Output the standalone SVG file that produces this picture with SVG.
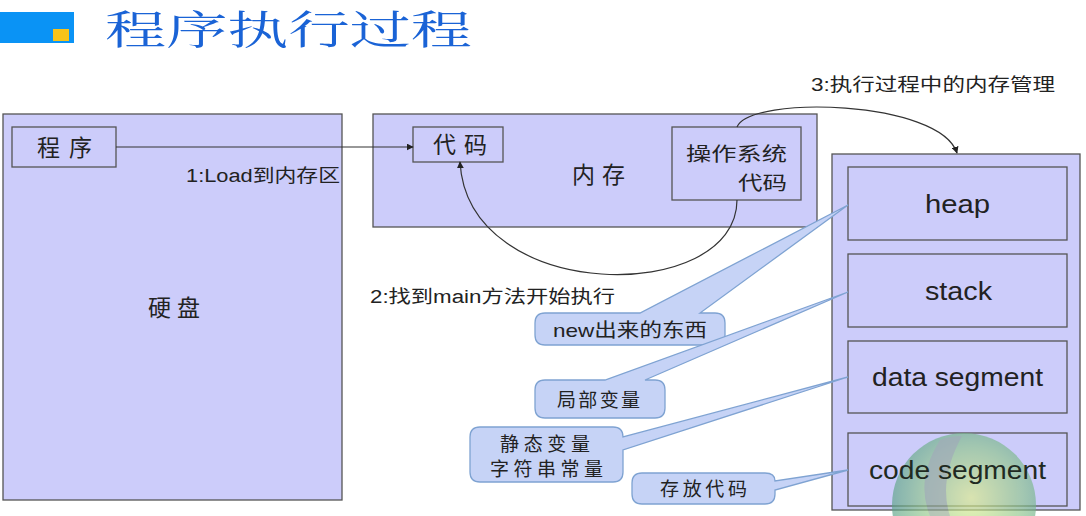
<svg xmlns="http://www.w3.org/2000/svg" width="1086" height="516" viewBox="0 0 1086 516">
<style>
.box{fill:#ccccfa;stroke:#555;stroke-width:1.3}
.cjk{font-family:"Noto Sans CJK SC","Liberation Sans",sans-serif;fill:#222}
.lab{font-family:"Liberation Sans","Noto Sans CJK SC",sans-serif;fill:#222}
.lat{font-family:"Liberation Sans","Noto Sans CJK SC",sans-serif;fill:#222}
.call{fill:#c6d3f6;stroke:#7fa3d2;stroke-width:1.3}
.conn{fill:none;stroke:#333;stroke-width:1.2}
</style>
<defs>
<marker id="ah" viewBox="0 0 10 10" refX="9" refY="5" markerWidth="7" markerHeight="7" orient="auto-start-reverse" markerUnits="userSpaceOnUse"><path d="M0,0 L10,5 L0,10 Z" fill="#222"/></marker>
<radialGradient id="sph" cx="0.55" cy="0.45" r="0.6">
<stop offset="0" stop-color="#e0f08a"/>
<stop offset="0.6" stop-color="#8cc48a"/>
<stop offset="1" stop-color="#4e9a86"/>
</radialGradient>
</defs>
<rect width="1086" height="516" fill="#fff"/>
<g id="title">
<rect x="0" y="12" width="74" height="31" fill="#0a93f5"/>
<rect x="53" y="29" width="16" height="12" fill="#f7c31a"/>
<text x="105" y="44" textLength="367" lengthAdjust="spacingAndGlyphs" style="fill:#1a63d6;font-size:40px;font-family:'Noto Serif CJK SC','Noto Sans CJK SC',serif">程序执行过程</text>
</g>
<g id="disk">
<rect x="3" y="114" width="339" height="386" class="box"/>
<text x="148" y="316" class="cjk" font-size="23" textLength="52">硬盘</text>
</g>
<g id="program">
<rect x="12" y="127" width="104" height="40" class="box"/>
<text x="37" y="156" class="cjk" font-size="23" textLength="55">程序</text>
</g>
<g id="memory">
<rect x="373" y="114" width="444" height="113" class="box"/>
<text x="572" y="183" class="cjk" font-size="23" textLength="53">内存</text>
</g>
<g id="code">
<rect x="413" y="127" width="90" height="35" class="box"/>
<text x="433" y="153" class="cjk" font-size="23" textLength="54">代码</text>
</g>
<g id="os">
<rect x="672" y="127" width="129" height="73" class="box"/>
<text x="686" y="161" class="cjk" font-size="19" textLength="101" lengthAdjust="spacingAndGlyphs">操作系统</text>
<text x="738" y="190" class="cjk" font-size="19" textLength="49" lengthAdjust="spacingAndGlyphs">代码</text>
</g>
<g id="process">
<rect x="832" y="154" width="248" height="356" class="box"/>
</g>
<g id="heap">
<rect x="848" y="167" width="219" height="73" class="box"/>
<text x="925" y="213" class="lat" font-size="25" textLength="65" lengthAdjust="spacingAndGlyphs">heap</text>
</g>
<g id="stack">
<rect x="848" y="254" width="219" height="73" class="box"/>
<text x="925" y="300" class="lat" font-size="25" textLength="67" lengthAdjust="spacingAndGlyphs">stack</text>
</g>
<g id="data">
<rect x="848" y="341" width="219" height="72" class="box"/>
<text x="872" y="386" class="lat" font-size="25" textLength="171" lengthAdjust="spacingAndGlyphs">data segment</text>
</g>
<g id="codeseg">
<rect x="848" y="433" width="219" height="73" class="box"/>
</g>
<g id="logo" opacity="0.65">
<circle cx="964" cy="505" r="72" fill="url(#sph)"/>
<path d="M940,440 Q915,480 930,516 L950,516 Q938,480 962,436 Q950,436 940,440 Z" fill="#8a9a96" opacity="0.7"/>
</g>
<text x="869" y="479" class="lat" font-size="25" textLength="177" lengthAdjust="spacingAndGlyphs" style="fill:#1f2a22">code segment</text>
<g id="connectors">
<line x1="116" y1="147" x2="413" y2="147" class="conn" marker-end="url(#ah)"/>
<path d="M737,200 C737,305 468,305 460,162" class="conn" marker-end="url(#ah)"/>
<path d="M737,127 C750,95 940,100 957,153" class="conn" marker-end="url(#ah)"/>
</g>
<g id="labels">
<text x="186" y="182" class="lab" font-size="18" textLength="154" lengthAdjust="spacingAndGlyphs">1:Load到内存区</text>
<text x="370" y="303" class="lab" font-size="18" textLength="245" lengthAdjust="spacingAndGlyphs">2:找到main方法开始执行</text>
<text x="811" y="91" class="lab" font-size="18" textLength="244" lengthAdjust="spacingAndGlyphs">3:执行过程中的内存管理</text>
</g>
<g id="callout-heap">
<path class="call" d="M545,313 L640,313 L848,205 L700,313 L715,313 Q725,313 725,323 L725,335 Q725,345 715,345 L545,345 Q535,345 535,335 L535,323 Q535,313 545,313 Z"/>
<text x="553" y="337" class="lab" font-size="19" textLength="154" lengthAdjust="spacingAndGlyphs">new出来的东西</text>
</g>
<g id="callout-stack">
<path class="call" d="M545,380 L605,380 L848,292 L645,380 L655,380 Q665,380 665,390 L665,408 Q665,418 655,418 L545,418 Q535,418 535,408 L535,390 Q535,380 545,380 Z"/>
<text x="557" y="407" class="cjk" font-size="19" textLength="83">局部变量</text>
</g>
<g id="callout-data">
<path class="call" d="M480,427 L613,427 Q623,427 623,437 L848,377 L623,450 L623,472 Q623,482 613,482 L480,482 Q470,482 470,472 L470,437 Q470,427 480,427 Z"/>
<text x="500" y="451" class="cjk" font-size="19" textLength="90">静态变量</text>
<text x="490" y="476" class="cjk" font-size="19" textLength="113">字符串常量</text>
</g>
<g id="callout-code">
<path class="call" d="M642,473 L765,473 Q775,473 775,481 L848,470 L775,490 L775,494 Q775,504 765,504 L642,504 Q632,504 632,494 L632,483 Q632,473 642,473 Z"/>
<text x="660" y="496" class="cjk" font-size="19" textLength="87">存放代码</text>
</g>
</svg>
